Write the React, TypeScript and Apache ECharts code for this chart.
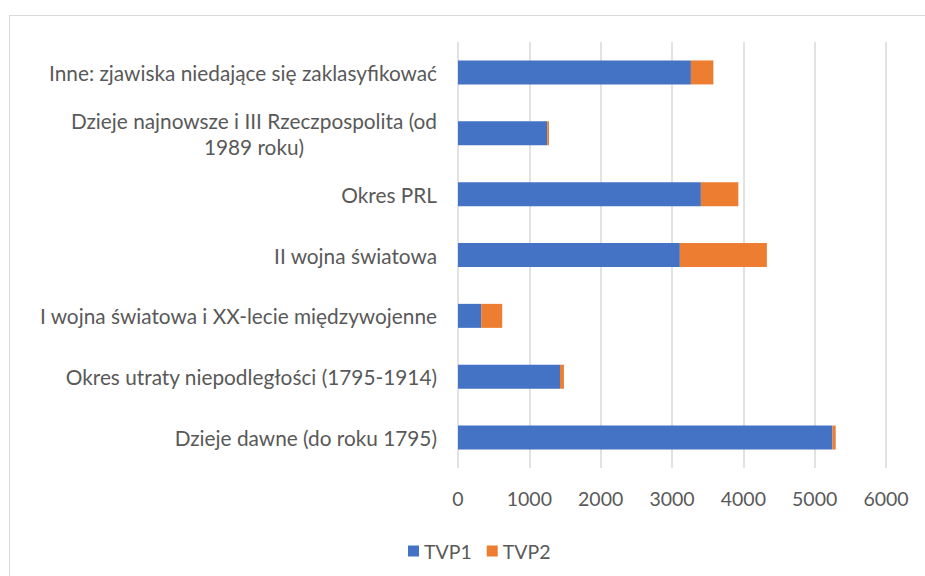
import React, { useEffect, useRef } from "react";
import * as echarts from "echarts";

const categories = [
  "Inne: zjawiska niedające się zaklasyfikować",
  "Dzieje najnowsze i III Rzeczpospolita (od 1989 roku)",
  "Okres PRL",
  "II wojna światowa",
  "I wojna światowa i XX-lecie międzywojenne",
  "Okres utraty niepodległości (1795-1914)",
  "Dzieje dawne (do roku 1795)",
];
const tvp1 = [3265, 1250, 3405, 3110, 325, 1430, 5250];
const tvp2 = [315, 25, 525, 1220, 295, 55, 45];
const xTicks = [0, 1000, 2000, 3000, 4000, 5000, 6000];

const FONT = "Lato";
const GREY = "#595959";
const FS_Y = 20.8;
const FS_X = 19.5;

export default function App() {
  const ref = useRef<HTMLDivElement>(null);
  useEffect(() => {
    document.body.style.margin = "0";
    const chart = echarts.init(ref.current!, null, { renderer: "svg" });
    chart.setOption({
      animation: false,
      backgroundColor: "#ffffff",
      textStyle: { fontFamily: FONT },
      graphic: [
        {
          type: "rect",
          shape: { x: 9.5, y: 15.5, width: 1000, height: 1000 },
          style: { fill: "none", stroke: "#d9d9d9", lineWidth: 1 },
          silent: true,
        },
      ],
      grid: { left: 458, right: 39, top: 42, bottom: 108, containLabel: false },
      legend: {
        left: 403,
        top: 536,
        icon: "rect",
        itemWidth: 11,
        itemHeight: 11,
        itemGap: 15,
        textStyle: { fontSize: FS_X, color: GREY, fontFamily: FONT },
        data: ["TVP1", "TVP2"],
      },
      xAxis: {
        type: "value",
        min: xTicks[0],
        max: xTicks[xTicks.length - 1],
        interval: 1000,
        axisLine: { show: false },
        axisTick: { show: false },
        axisLabel: {
          fontSize: FS_X,
          color: GREY,
          margin: 20,
          fontFamily: FONT,
          formatter: (v: number) => String(v),
        },
        splitLine: { lineStyle: { color: "#d9d9d9", width: 1.5 } },
      },
      yAxis: {
        type: "category",
        inverse: true,
        data: categories,
        axisLine: { show: false },
        axisTick: { show: false },
        axisLabel: {
          fontSize: FS_Y,
          color: GREY,
          margin: 21,
          fontFamily: FONT,
          formatter: (v: string) => {
            if (v.startsWith("Dzieje najnowsze")) {
              return "{c|Dzieje najnowsze i III Rzeczpospolita (od}\n{c|1989 roku)}";
            }
            return "{r|" + v + "}";
          },
          rich: {
            c: { align: "center", fontSize: FS_Y, color: GREY, fontFamily: FONT, lineHeight: 26 },
            r: { fontSize: FS_Y, color: GREY, fontFamily: FONT },
          },
        },
      },
      series: [
        {
          name: "TVP1",
          type: "bar",
          stack: "total",
          data: tvp1,
          barWidth: 24,
          itemStyle: { color: "#4472C4" },
        },
        {
          name: "TVP2",
          type: "bar",
          stack: "total",
          data: tvp2,
          barWidth: 24,
          itemStyle: { color: "#ED7D31" },
        },
      ],
    });
    return () => chart.dispose();
  }, []);
  return <div ref={ref} style={{ width: 925, height: 576 }} />;
}
